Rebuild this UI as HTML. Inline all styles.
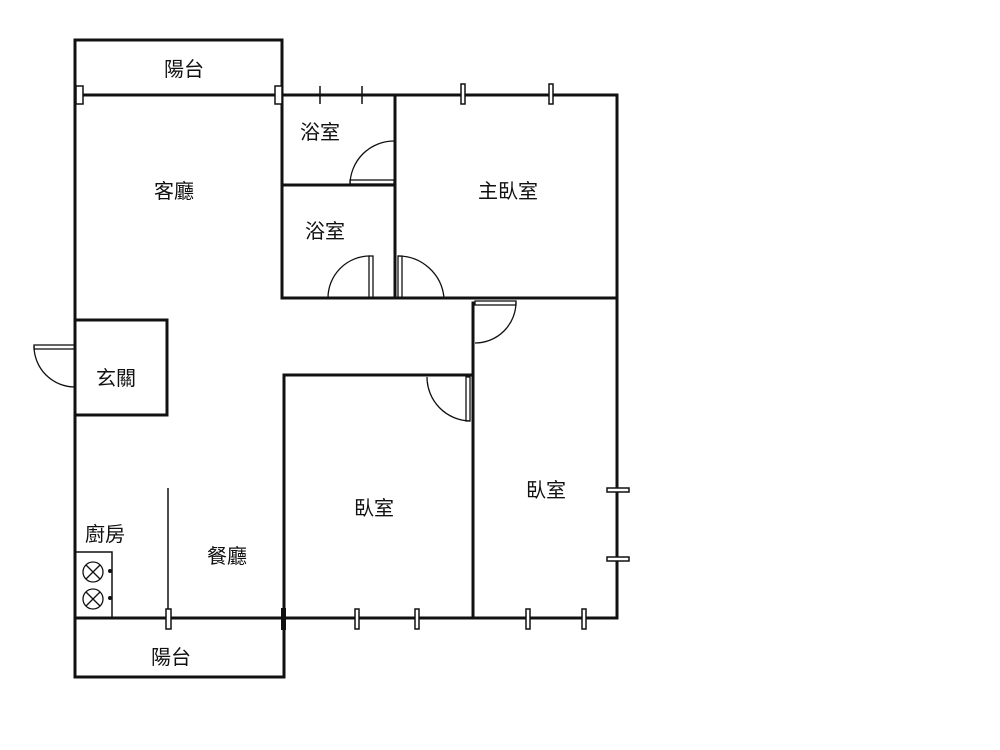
<!DOCTYPE html>
<html><head><meta charset="utf-8"><style>
html,body{margin:0;padding:0;background:#fff;width:1000px;height:750px;overflow:hidden}
text{font-family:"Liberation Sans","Noto Sans CJK TC",sans-serif;font-size:20px;fill:#111}
</style></head><body>
<svg width="1000" height="750" viewBox="0 0 1000 750" xmlns="http://www.w3.org/2000/svg">
<g stroke="#111" stroke-width="3" fill="none" stroke-linecap="square">
<!-- top balcony -->
<path d="M75 95 V40 H282 V95"/>
<line x1="75" y1="95" x2="617" y2="95"/>
<line x1="75" y1="40" x2="75" y2="677"/>
<line x1="282" y1="95" x2="282" y2="298"/>
<line x1="395" y1="95" x2="395" y2="298"/>
<line x1="282" y1="185" x2="395" y2="185"/>
<line x1="617" y1="95" x2="617" y2="618"/>
<line x1="282" y1="298" x2="617" y2="298"/>
<line x1="473" y1="303" x2="473" y2="618"/>
<path d="M284 677 V375 H473"/>
<line x1="75" y1="618" x2="617" y2="618"/>
<line x1="75" y1="677" x2="284" y2="677"/>
<rect x="75" y="320" width="92" height="95"/>
</g>
<g stroke="#111" fill="none">
<line x1="168" y1="488" x2="168" y2="618" stroke-width="1.5"/>
<rect x="75" y="552" width="37" height="66" stroke-width="1.5"/>
<!-- burners -->
<circle cx="93" cy="572" r="10" stroke-width="1.3"/>
<path d="M86 565 L100 579 M100 565 L86 579" stroke-width="1.3"/>
<circle cx="93" cy="599" r="10" stroke-width="1.3"/>
<path d="M86 592 L100 606 M100 592 L86 606" stroke-width="1.3"/>
<!-- doors -->
<g stroke-width="1.3">
<path d="M350 185 A44 44 0 0 1 394 141"/><rect x="350" y="180" width="44" height="4"/>
<path d="M328 298 A42 42 0 0 1 370 256"/><rect x="369" y="256" width="4" height="42"/>
<path d="M398 256 A46 46 0 0 1 444 298"/><rect x="398" y="256" width="4" height="42"/>
<path d="M475 343 A41 41 0 0 0 516 302"/><rect x="475" y="301" width="41" height="4"/>
<path d="M427 377 A44 44 0 0 0 470 421"/><rect x="466" y="377" width="4" height="44"/>
<path d="M34 346 A41 41 0 0 0 75 387"/><rect x="34" y="345" width="41" height="4"/>
</g>
<!-- window markers -->
<g stroke-width="1.5" fill="#fff">
<rect x="76" y="86" width="7" height="18"/><rect x="275" y="86" width="7" height="18"/>
<rect x="461" y="84" width="4" height="20"/><rect x="549" y="84" width="4" height="20"/>
<rect x="166" y="609" width="5" height="20"/><rect x="355" y="609" width="4" height="20"/><rect x="415" y="609" width="4" height="20"/>
<rect x="526" y="609" width="4" height="20"/><rect x="582" y="609" width="4" height="20"/>
<rect x="607" y="488" width="22" height="4"/><rect x="607" y="557" width="22" height="4"/>
</g>
<g stroke-width="1.5"><line x1="320" y1="86" x2="320" y2="104"/><line x1="362" y1="86" x2="362" y2="104"/></g>
<rect x="281" y="608" width="5" height="22" fill="#111" stroke="none"/>
<circle cx="110" cy="571" r="2" fill="#111" stroke="none"/>
<circle cx="110" cy="598" r="2" fill="#111" stroke="none"/>
</g>
<text x="164" y="76">陽台</text>
<text x="300" y="139">浴室</text>
<text x="305" y="238">浴室</text>
<text x="154" y="198">客廳</text>
<text x="478" y="198">主臥室</text>
<text x="96" y="385">玄關</text>
<text x="85" y="541">廚房</text>
<text x="207" y="563">餐廳</text>
<text x="354" y="515">臥室</text>
<text x="526" y="497">臥室</text>
<text x="151" y="664">陽台</text>
</svg>
</body></html>
